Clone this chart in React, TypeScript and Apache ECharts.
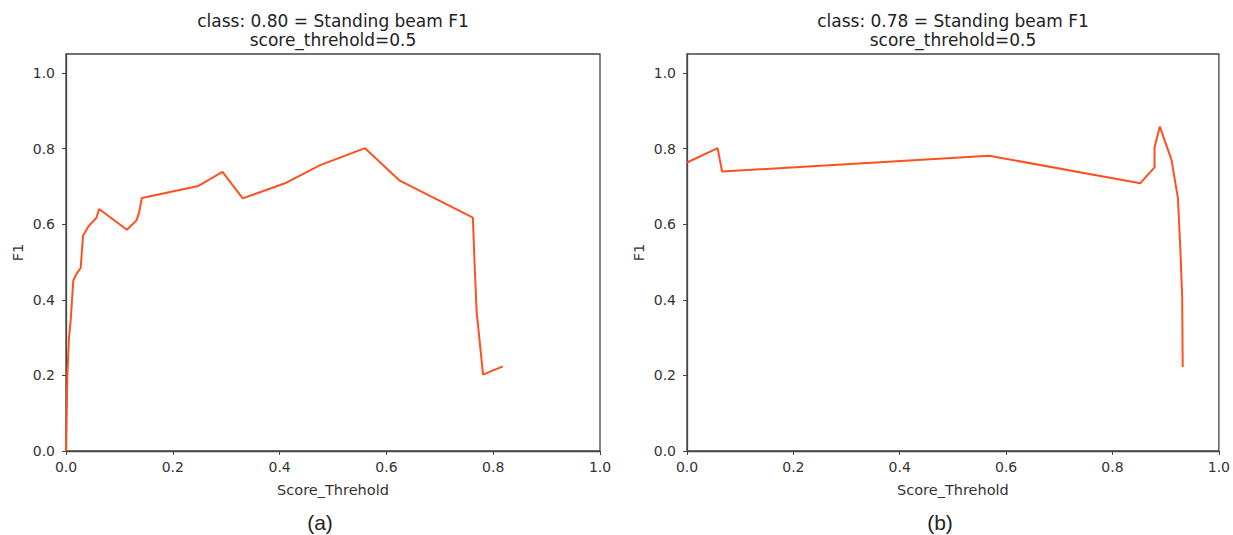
import React, { useEffect, useRef } from "react";
import * as echarts from "echarts";

const xTicks = [0, 0.2, 0.4, 0.6, 0.8, 1.0];
const yTicks = [0, 0.2, 0.4, 0.6, 0.8, 1.0];

const titleA = "class: 0.80 = Standing beam F1\nscore_threhold=0.5";
const titleB = "class: 0.78 = Standing beam F1\nscore_threhold=0.5";

const leftX = [0, 0.0025, 0.0056, 0.0088, 0.0137, 0.02, 0.0275, 0.029, 0.032, 0.042, 0.057, 0.062, 0.114, 0.132, 0.137, 0.142, 0.248, 0.293, 0.331, 0.41, 0.476, 0.56, 0.625, 0.762, 0.765, 0.769, 0.781, 0.818];
const leftY = [0, 0.2, 0.3, 0.346, 0.451, 0.469, 0.484, 0.513, 0.57, 0.594, 0.617, 0.64, 0.585, 0.61, 0.631, 0.669, 0.701, 0.738, 0.668, 0.708, 0.756, 0.801, 0.715, 0.617, 0.5, 0.368, 0.202, 0.224];

const rightX = [0, 0.0575, 0.066, 0.568, 0.852, 0.879, 0.879, 0.889, 0.911, 0.923, 0.928, 0.931, 0.932];
const rightY = [0.763, 0.801, 0.739, 0.781, 0.708, 0.75, 0.803, 0.858, 0.77, 0.669, 0.52, 0.407, 0.222];

const FONT = "DejaVu Sans";
const AXIS = "#444";
const LINE = "#ff5020";

function xAxisFor(gridIndex: number) {
  return {
    type: "value",
    gridIndex,
    min: 0,
    max: 1,
    name: "Score_Threhold",
    nameLocation: "middle",
    nameGap: 31,
    nameTextStyle: { fontFamily: FONT, fontSize: 14.5, color: "#333" },
    axisLine: { show: true, lineStyle: { color: AXIS, width: 1.3 } },
    axisTick: { show: true, length: 4, lineStyle: { color: AXIS }, customValues: xTicks },
    axisLabel: {
      fontFamily: FONT,
      fontSize: 14,
      color: "#333",
      margin: 9,
      customValues: xTicks,
      formatter: (v: number) => v.toFixed(1),
    },
    splitLine: { show: false },
  };
}

function yAxisFor(gridIndex: number) {
  return {
    type: "value",
    gridIndex,
    min: 0,
    max: 1.05,
    name: "F1",
    nameLocation: "middle",
    nameGap: 41,
    nameRotate: 90,
    nameTextStyle: { fontFamily: FONT, fontSize: 14.5, color: "#333" },
    axisLine: { show: true, lineStyle: { color: AXIS, width: 1.3 } },
    axisTick: { show: true, length: 4, lineStyle: { color: AXIS }, customValues: yTicks },
    axisLabel: {
      fontFamily: FONT,
      fontSize: 14,
      color: "#333",
      margin: 11,
      customValues: yTicks,
      formatter: (v: number) => v.toFixed(1),
    },
    splitLine: { show: false },
  };
}

export default function App() {
  const ref = useRef<HTMLDivElement>(null);
  useEffect(() => {
    if (!ref.current) return;
    const chart = echarts.init(ref.current, undefined, { renderer: "svg" });
    const titleStyle = { fontFamily: FONT, fontSize: 17, fontWeight: "normal", color: "#222", lineHeight: 19 };
    const capStyle = { fontFamily: "Liberation Sans", fontSize: 21, fontWeight: "normal", color: "#222" };
    chart.setOption({
      animation: false,
      backgroundColor: "#fff",
      title: [
        { text: titleA, left: 333, top: 11, textAlign: "center", padding: 0, textStyle: titleStyle },
        { text: titleB, left: 953, top: 11, textAlign: "center", padding: 0, textStyle: titleStyle },
        { text: "(a)", left: 320, top: 512, textAlign: "center", padding: 0, textStyle: capStyle },
        { text: "(b)", left: 940, top: 512, textAlign: "center", padding: 0, textStyle: capStyle },
      ],
      grid: [
        { left: 66, top: 54, width: 534, height: 397, show: true, borderColor: AXIS, borderWidth: 1.3, backgroundColor: "transparent" },
        { left: 687, top: 54, width: 532, height: 397, show: true, borderColor: AXIS, borderWidth: 1.3, backgroundColor: "transparent" },
      ],
      xAxis: [xAxisFor(0), xAxisFor(1)],
      yAxis: [yAxisFor(0), yAxisFor(1)],
      series: [
        {
          type: "line",
          xAxisIndex: 0,
          yAxisIndex: 0,
          showSymbol: false,
          lineStyle: { color: LINE, width: 2 },
          itemStyle: { color: LINE },
          data: leftX.map((x, i) => [x, leftY[i]]),
        },
        {
          type: "line",
          xAxisIndex: 1,
          yAxisIndex: 1,
          showSymbol: false,
          lineStyle: { color: LINE, width: 2 },
          itemStyle: { color: LINE },
          data: rightX.map((x, i) => [x, rightY[i]]),
        },
      ],
    });
    return () => chart.dispose();
  }, []);
  return (
    <div
      ref={ref}
      style={{ position: "absolute", left: 0, top: 0, width: 1233, height: 535 }}
    />
  );
}
